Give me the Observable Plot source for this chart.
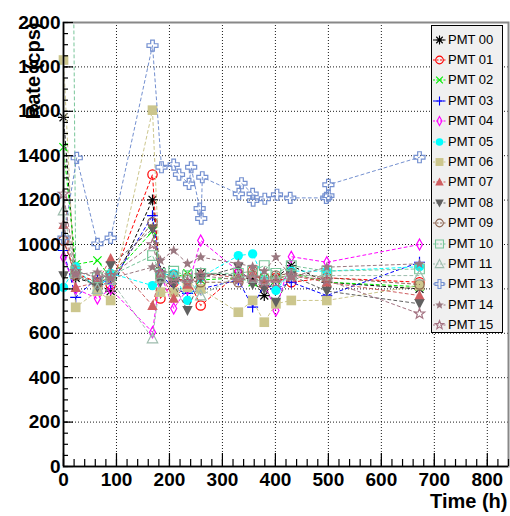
<!DOCTYPE html>
<html><head><meta charset="utf-8">
<script src="https://cdn.jsdelivr.net/npm/d3@7"></script>
<script src="https://cdn.jsdelivr.net/npm/@observablehq/plot@0.6"></script>
<style>
body{margin:0;background:#fff;}
#wrap{position:relative;width:510px;height:516px;}
#legend{position:absolute;left:431px;top:25px;width:72px;height:308px;background:#f0f0f0;border:1px solid #000;box-sizing:border-box;font-family:"Liberation Sans",Arial,sans-serif;font-size:13px;color:#000;}
.row{position:absolute;left:0;height:18px;width:70px;}
.row svg{position:absolute;left:0;top:0;}
.row span{position:absolute;left:16px;top:1px;line-height:16px;white-space:nowrap;}
</style></head><body><div id="wrap"></div>
<script>
// ---- data ----
const times = [0, 23, 64, 89, 168, 183, 208, 234, 259, 330, 357, 379, 401, 430, 497, 672];
const pmt00 = [1573, 850, 820, 790, 1201, 880, 850, 830, 870, 860, 840, 770, 850, 905, 830, 800];
const pmt01 = [1018, 870, 830, 820, 1315, 757, 830, 850, 725, 870, 880, 820, 850, 830, 850, 830];
const pmt02 = [1438, 910, 928, 850, 1060, 860, 850, 870, 840, 850, 830, 850, 840, 870, 830, 810];
const pmt03 = [973, 762, 850, 820, 1130, 870, 800, 780, 800, 840, 718, 820, 800, 830, 770, 920];
const pmt04 = [943, 800, 757, 800, 605, 870, 712, 800, 1018, 880, 840, 820, 703, 945, 920, 1000];
const pmt05 = [807, 900, 793, 870, 815, 860, 869, 748, 853, 950, 958, 840, 793, 880, 880, 900];
const pmt06 = [1831, 717, 790, 748, 1605, 785, 785, 807, 800, 695, 748, 650, 733, 748, 748, 815];
const pmt07 = [1090, 806, 830, 937, 725, 870, 757, 820, 870, 850, 870, 830, 850, 860, 830, 770];
const pmt08 = [860, 870, 807, 905, 1070, 830, 820, 703, 850, 898, 820, 800, 740, 860, 790, 733];
const pmt09 = [1018, 860, 830, 850, 1100, 850, 860, 840, 830, 830, 860, 850, 860, 870, 850, 820];
const pmt10Times = [17, 23, 64, 89, 168, 183, 208, 234, 259, 330, 357, 379, 401, 430, 497, 672];
const pmt10 = [2800, 880, 850, 860, 950, 870, 880, 860, 870, 870, 880, 905, 870, 905, 880, 890];
const pmt11 = [1153, 870, 800, 840, 577, 850, 860, 850, 770, 860, 850, 840, 850, 860, 860, 860];
const pmt13Times = [0, 25, 64, 89, 168, 185, 208, 218, 237, 241, 257, 260, 262, 331, 336, 357, 358, 380, 403, 428, 496, 500, 500, 672];
const pmt13 = [1030, 1390, 1003, 1030, 1896, 1348, 1360, 1315, 1273, 1348, 1162, 1117, 1303, 1228, 1276, 1228, 1198, 1206, 1224, 1210, 1210, 1220, 1269, 1393];
const pmt14 = [1090, 865, 875, 847, 898, 928, 973, 914, 943, 914, 900, 880, 943, 853, 898, 913];
const pmt15 = [1228, 880, 850, 860, 1000, 870, 840, 830, 860, 840, 850, 830, 830, 860, 840, 688];
const labels = ["PMT 00","PMT 01","PMT 02","PMT 03","PMT 04","PMT 05","PMT 06","PMT 07","PMT 08","PMT 09","PMT 10","PMT 11","PMT 13","PMT 14","PMT 15"];
const xMajor = [0,100,200,300,400,500,600,700,800];
const yMajor = [0,200,400,600,800,1000,1200,1400,1600,1800,2000];
const xLabel = "Time (h)";
const yLabel = "Rate (cps)";

// ---- marker shapes (ROOT style) ----
const R = s => Math.sqrt(s / Math.PI);
const shapes = {
  asterisk:{draw(c,s){const r=R(s),d=r*0.72;c.moveTo(-r,0);c.lineTo(r,0);c.moveTo(0,-r);c.lineTo(0,r);c.moveTo(-d,-d);c.lineTo(d,d);c.moveTo(-d,d);c.lineTo(d,-d);}},
  circle:{draw(c,s){const r=R(s)*0.85;c.moveTo(r,0);c.arc(0,0,r,0,2*Math.PI);}},
  times:{draw(c,s){const r=R(s)*0.75;c.moveTo(-r,-r);c.lineTo(r,r);c.moveTo(-r,r);c.lineTo(r,-r);}},
  plus:{draw(c,s){const r=R(s);c.moveTo(-r,0);c.lineTo(r,0);c.moveTo(0,-r);c.lineTo(0,r);}},
  diamond:{draw(c,s){const r=R(s),w=r*0.55;c.moveTo(0,-r);c.lineTo(w,0);c.lineTo(0,r);c.lineTo(-w,0);c.closePath();}},
  square:{draw(c,s){const r=R(s)*0.88;c.rect(-r,-r,2*r,2*r);}},
  triUp:{draw(c,s){const r=R(s);c.moveTo(0,-r);c.lineTo(r*0.95,r*0.8);c.lineTo(-r*0.95,r*0.8);c.closePath();}},
  triDown:{draw(c,s){const r=R(s);c.moveTo(0,r);c.lineTo(r*0.95,-r*0.8);c.lineTo(-r*0.95,-r*0.8);c.closePath();}},
  cross:{draw(c,s){const r=R(s),a=r*0.33;const p=[[-a,-r],[a,-r],[a,-a],[r,-a],[r,a],[a,a],[a,r],[-a,r],[-a,a],[-r,a],[-r,-a],[-a,-a]];c.moveTo(...p[0]);for(const q of p.slice(1))c.lineTo(...q);c.closePath();}},
  star:{draw(c,s){const r=R(s),ri=r*0.42;for(let i=0;i<10;i++){const a=-Math.PI/2+i*Math.PI/5,rr=i%2?ri:r;const x=rr*Math.cos(a),y=rr*Math.sin(a);i?c.lineTo(x,y):c.moveTo(x,y);}c.closePath();}}
};

const styles = [
  {color:"#000000", shape:"asterisk", filled:false},
  {color:"#ff0000", shape:"circle", filled:false},
  {color:"#00ee00", shape:"times", filled:false},
  {color:"#0000ff", shape:"plus", filled:false},
  {color:"#ff00ff", shape:"diamond", filled:false},
  {color:"#00ffff", shape:"circle", filled:true},
  {color:"#ccc68d", shape:"square", filled:true},
  {color:"#cf5e61", shape:"triUp", filled:true},
  {color:"#606060", shape:"triDown", filled:true},
  {color:"#8c6450", shape:"circle", filled:false},
  {color:"#79c69a", shape:"square", filled:false},
  {color:"#9dbcad", shape:"triUp", filled:false},
  {color:"#7490d0", shape:"cross", filled:false},
  {color:"#9a7880", shape:"star", filled:true},
  {color:"#a47282", shape:"star", filled:false}
];

const seriesValues = [pmt00,pmt01,pmt02,pmt03,pmt04,pmt05,pmt06,pmt07,pmt08,pmt09,pmt10,pmt11,pmt13,pmt14,pmt15];
const seriesTimes = seriesValues.map((v,i) => i===10 ? pmt10Times : i===12 ? pmt13Times : times);
const series = seriesValues.map((vals,i) => ({
  name: labels[i],
  data: vals.map((v,j) => ({t: seriesTimes[i][j], v})),
  ...styles[i]
}));

const MR = 5.5;
const font = "'Liberation Sans', Arial, Helvetica, sans-serif";
const fmt = d => String(d);

const marks = [
  Plot.gridX(xMajor, {stroke:"#000", strokeOpacity:0.9, strokeDasharray:"1,2", strokeWidth:1}),
  Plot.gridY(yMajor, {stroke:"#000", strokeOpacity:0.9, strokeDasharray:"1,2", strokeWidth:1}),
];
for (const s of series) {
  marks.push(Plot.line(s.data, {x:"t", y:"v", stroke:s.color, strokeWidth:1, strokeDasharray:"3,3", clip:true}));
  marks.push(Plot.dot(s.data.filter(d => d.v <= 2000), {x:"t", y:"v", symbol:shapes[s.shape], r:MR,
    fill: s.filled ? s.color : "none", stroke: s.filled ? "none" : s.color, strokeWidth:1.2}));
}
marks.push(
  Plot.frame({stroke:"#888", strokeWidth:2}),
  Plot.ruleX([0], {stroke:"#000", strokeWidth:1.5}),
  Plot.ruleY([0], {stroke:"#000", strokeWidth:1.5}),
  Plot.axisY(yMajor, {tickSize:-10, tickFormat:()=>"", label:null, strokeWidth:1.2}),
  Plot.axisY(d3.range(0,2001,50), {tickSize:-5, tickFormat:()=>"", label:null, strokeWidth:1.2}),
  Plot.axisY(yMajor, {tickSize:0, tickPadding:3, tickFormat:fmt, label:null, fontSize:19, fontWeight:"bold", fontFamily:font}),
  Plot.axisX(xMajor, {tickSize:-13, tickFormat:()=>"", label:null, strokeWidth:1.2}),
  Plot.axisX(d3.range(0,841,20), {tickSize:-7, tickFormat:()=>"", label:null, strokeWidth:1.2}),
  Plot.axisX(xMajor, {tickSize:0, tickPadding:6, tickFormat:fmt, label:null, fontSize:19, fontWeight:"bold", fontFamily:font}),
  Plot.text([yLabel], {frameAnchor:"top-left", rotate:-90, textAnchor:"end", lineAnchor:"middle", dx:-30, fontSize:20, fontWeight:"bold", fontFamily:font}),
  Plot.text([xLabel], {frameAnchor:"bottom-right", textAnchor:"end", lineAnchor:"middle", dy:35, dx:-1, fontSize:20, fontWeight:"bold", fontFamily:font})
);

const chart = Plot.plot({
  width:510, height:516,
  marginLeft:63, marginRight:2, marginTop:22, marginBottom:50,
  x:{domain:[0,840]},
  y:{domain:[0,2000]},
  style:{background:"#fff", fontFamily:font, fontSize:"19px", fontWeight:"bold", overflow:"visible"},
  marks
});
const wrap = document.getElementById("wrap");
wrap.appendChild(chart);

// ---- legend ----
const legend = document.createElement("div");
legend.id = "legend";
series.forEach((s,i) => {
  const row = document.createElement("div");
  row.className = "row";
  row.style.top = (4.5 + 20.4*i) + "px";
  const path = d3.symbol(shapes[s.shape], Math.PI*4.5*4.5)();
  row.innerHTML = `<svg width="16" height="18"><line x1="1" x2="15" y1="9" y2="9" stroke="${s.color}" stroke-dasharray="2,1.5"/><path transform="translate(7.5,9)" d="${path}" fill="${s.filled?s.color:"none"}" stroke="${s.filled?"none":s.color}" stroke-width="1.1"/></svg><span>${s.name}</span>`;
  legend.appendChild(row);
});
wrap.appendChild(legend);
</script></body></html>
